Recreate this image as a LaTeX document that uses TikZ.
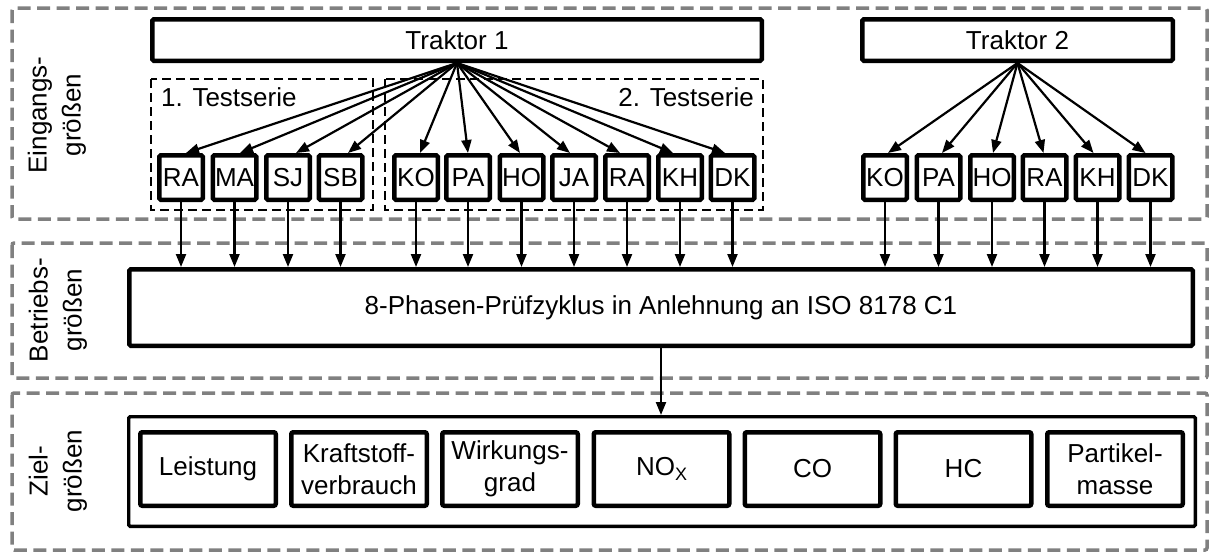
\documentclass[tikz,border=0pt]{standalone}
\usepackage{fontspec}
\setmainfont{Liberation Sans}
\usetikzlibrary{arrows.meta}
\definecolor{framegray}{RGB}{128,128,128}
\tikzset{
  every node/.style={font=\fontsize{26}{32}\selectfont},
  group/.style={draw=framegray, line width=3.5pt, dash pattern=on 13pt off 6.5pt, rounded corners=2pt},
  series/.style={draw=black, line width=2pt, dash pattern=on 9pt off 5pt},
  bigbox/.style={draw, line width=4.5pt, inner sep=0pt, rounded corners=1.5pt},
  fuel/.style={draw, line width=4.5pt, minimum width=43.5pt, minimum height=44.5pt, inner sep=0pt, rounded corners=1.5pt},
  result/.style={draw, line width=4.5pt, minimum width=135.5pt, minimum height=73.5pt, align=center, inner sep=0pt, rounded corners=2pt},
  flow/.style={line width=2.2pt, -{Triangle[length=13pt,width=10pt]}},
  side/.style={rotate=90, align=center, font=\fontsize{26}{34}\selectfont}
}
\begin{document}
\begin{tikzpicture}[x=1pt, y=-1pt]
\useasboundingbox (0,0) rectangle (1210,552);

% group frames
\draw[group] (12,8) rectangle (1207,219);
\draw[group] (12,243) rectangle (1207,378);
\draw[group] (12,393) rectangle (1207,550);

\node[side] (lin) at (57,115) {Eingangs-\\größen};
\node[side] (lop) at (58,310) {Betriebs-\\größen};
\node[side] (lout) at (58,471) {Ziel-\\größen};

% test series
\draw[series] (151,79) rectangle (373,210);
\draw[series] (385,79) rectangle (763,210);
\node[anchor=base west, inner sep=0pt] (s1) at (161,106) {1. Testserie};
\node[anchor=base east, inner sep=0pt] (s2) at (754,106) {2. Testserie};

% tractors
\node[bigbox, minimum width=609.5pt, minimum height=41.5pt] (T1) at (457,40) {Traktor 1};
\node[bigbox, minimum width=310.5pt, minimum height=41.5pt] (T2) at (1017.5,40) {Traktor 2};

% fuels
\foreach \n/\t/\x in {a1/RA/181, a2/MA/234.5, a3/SJ/288, a4/SB/340.5,
                      b1/KO/416, b2/PA/468, b3/HO/521.5, b4/JA/574, b5/RA/627, b6/KH/680, b7/DK/732.5,
                      c1/KO/885, c2/PA/938.5, c3/HO/992, c4/RA/1044.5, c5/KH/1097.5, c6/DK/1150.5}
  \node[fuel] (\n) at (\x,177.5) {\t};

% test cycle
\node[bigbox, minimum width=1063.5pt, minimum height=76.5pt] (P) at (661,307.5) {8-Phasen-Prüfzyklus in Anlehnung an ISO 8178 C1};

% target quantities
\node[draw, line width=3.3pt, minimum width=1066.7pt, minimum height=109.7pt, inner sep=0pt, rounded corners=1.5pt] (Z) at (662,471.5) {};
\node[result] (r1) at (208,469) {Leistung};
\node[result] (r2) at (359,469) {Kraftstoff-\\verbrauch};
\node[result] (r3) at (510,469) {Wirkungs-\\grad};
\node[result] (r4) at (661.5,469) {NO\raisebox{-5pt}{\fontsize{18}{18}\selectfont X}};
\node[result] (r5) at (812.5,469) {CO};
\node[result] (r6) at (963.5,469) {HC};
\node[result] (r7) at (1115,469) {Partikel-\\masse};

% connectors
\foreach \n/\s in {a1/5, a2/5.5, a3/8, a4/7.5, b1/4, b2/0, b3/-1.5, b4/-4, b5/-7, b6/-7, b7/-7.5}
  \draw[flow] (T1.south) -- ([xshift=\s pt]\n.north);
\foreach \n/\s in {c1/3, c2/3.5, c3/1, c4/-1, c5/-4, c6/-5}
  \draw[flow] (T2.south) -- ([xshift=\s pt]\n.north);
\foreach \n in {a1,a2,a3,a4,b1,b2,b3,b4,b5,b6,b7,c1,c2,c3,c4,c5,c6}
  \draw[flow] (\n.south) -- (\n.south |- P.north);
\draw[flow] (P.south) -- (P.south |- Z.north);
\end{tikzpicture}
\end{document}
